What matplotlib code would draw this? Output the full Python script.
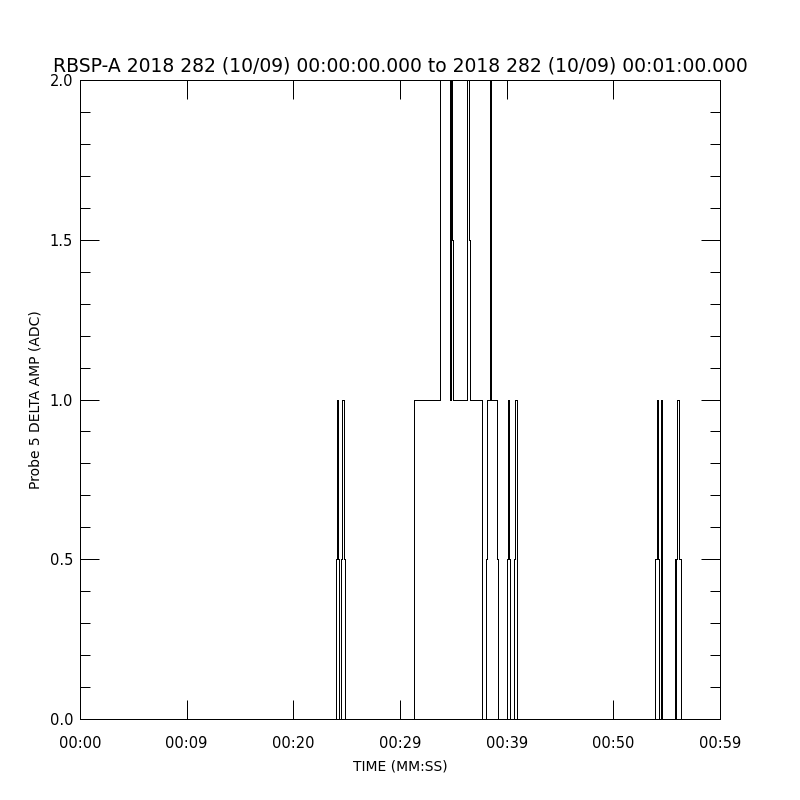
import matplotlib
matplotlib.use("Agg")
import matplotlib.pyplot as plt
from matplotlib.ticker import MultipleLocator

# step series: time (s) where value changes, and value after the change
times = [0.0,
         24.0, 24.094, 24.188, 24.281,
         24.469, 24.563, 24.75, 24.844,
         31.313, 33.75, 34.688, 34.734, 34.781, 34.828, 34.875, 34.969,
         36.281, 36.422, 36.563,
         37.688, 38.109, 38.156,
         38.438, 38.531, 38.578,
         39.094, 39.188,
         40.031, 40.125, 40.219, 40.266,
         40.734, 40.781, 40.922, 40.969,
         53.953, 54.047, 54.234, 54.281,
         54.469, 54.544, 54.591,
         55.781, 55.828, 55.875, 55.922, 56.203, 56.297,
         60.0]
values = [0,
          0.5, 1, 0.5, 0,
          0.5, 1, 0.5, 0,
          1, 2.5, 1.5, 1, 1.5, 2.5, 1.5, 1,
          2.5, 1.5, 1,
          0, 0.5, 1,
          2.5, 1.5, 1,
          0.5, 0,
          0.5, 1, 0.5, 0,
          0.5, 1, 0.5, 0,
          0.5, 1, 0.5, 0,
          1, 0.5, 0,
          0.5, 0, 0.5, 1, 0.5, 0,
          0]

xtick_pos = [0, 10, 20, 30, 40, 50, 60]
xtick_labels = ["00:00", "00:09", "00:20", "00:29", "00:39", "00:50", "00:59"]
ytick_pos = [0.0, 0.5, 1.0, 1.5, 2.0]
ytick_labels = ["0.0", "0.5", "1.0", "1.5", "2.0"]
title = "RBSP-A 2018 282 (10/09) 00:00:00.000 to 2018 282 (10/09) 00:01:00.000"

fig = plt.figure(figsize=(8, 8), dpi=100)
ax = fig.add_axes([0.1, 0.10125, 0.8, 0.79875])

ax.plot(times, values, drawstyle="steps-post", color="black", lw=0.72,
        antialiased=False)

ax.set_xlim(0, 60)
ax.set_ylim(0, 2.0)
ax.set_xticks(xtick_pos)
ax.set_xticklabels(xtick_labels)
ax.set_yticks(ytick_pos)
ax.set_yticklabels(ytick_labels)
ax.yaxis.set_minor_locator(MultipleLocator(0.1))

ax.tick_params(axis="both", which="major", direction="in", length=13.5,
               width=0.72, top=True, right=True, labelsize=10.5, pad=12)
ax.tick_params(axis="y", which="minor", direction="in", length=7,
               width=0.72, right=True)
ax.tick_params(axis="y", which="major", pad=5)
for s in ax.spines.values():
    s.set_linewidth(0.72)

ax.set_title(title, fontsize=13.5, pad=6)
ax.set_xlabel("TIME (MM:SS)", fontsize=10, labelpad=6)
ax.set_ylabel("Probe 5 DELTA AMP (ADC)", fontsize=10, labelpad=5)

fig.savefig("out.png", dpi=100)
